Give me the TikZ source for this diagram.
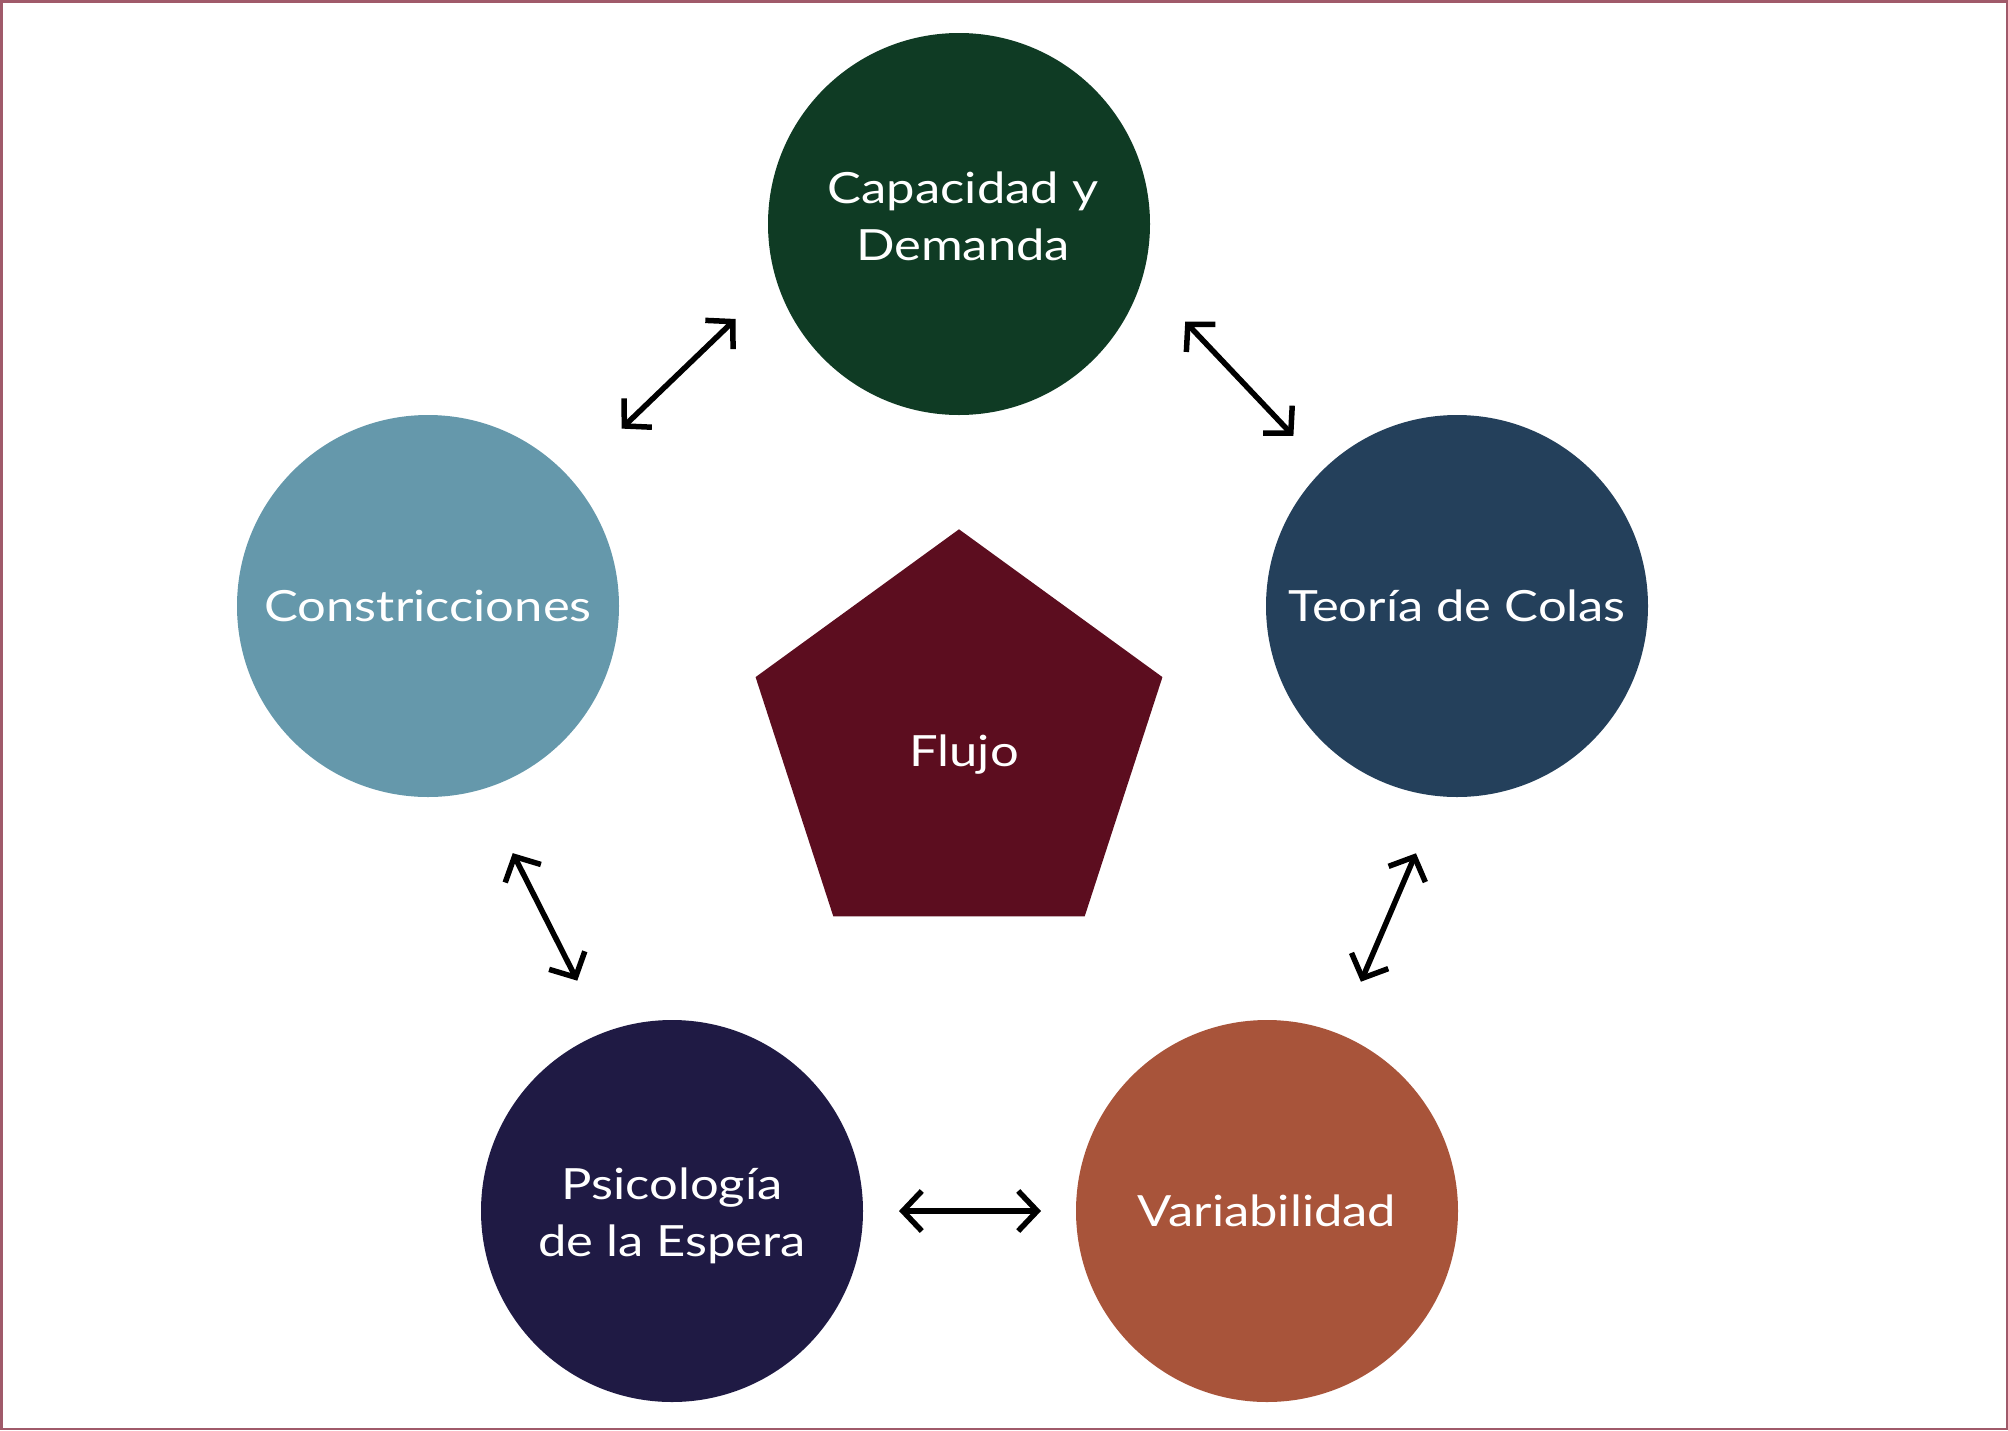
\documentclass[tikz,border=0pt]{standalone}
\usepackage{fontspec}
\setmainfont{Lato}[FakeStretch=1.18]
\usetikzlibrary{shapes.geometric,arrows.meta}
\definecolor{cgreen}{HTML}{0F3B24}
\definecolor{cteal}{HTML}{24405B}
\definecolor{clight}{HTML}{6598AB}
\definecolor{cnavy}{HTML}{1F1A44}
\definecolor{crust}{HTML}{A8543A}
\definecolor{cwine}{HTML}{5C0D1F}
\definecolor{cframe}{HTML}{A05A6A}
\tikzset{
  lbl/.style={text=white, align=center, font=\fontsize{43}{57}\selectfont},
  topic/.style={circle, fill=#1, draw=none, minimum size=382pt, inner sep=0pt, outer sep=0pt, lbl},
  link/.style={line width=5.5pt, draw=black, {Straight Barb[length=19pt,width=40pt]}-{Straight Barb[length=19pt,width=40pt]}}
}
\begin{document}
\begin{tikzpicture}[x=1pt,y=-1pt]
\useasboundingbox (0,0) rectangle (2008,1430);
\draw[cframe, line width=2.5pt] (1.25,1.25) rectangle (2006.75,1428.75);
\node[topic=cgreen] (cap) at (959,224) {};
\node[lbl] (captext) at (963,216) {Capacidad y\\Demanda};
\node[topic=cteal] (teo) at (1457,606) {Teoría de Colas};
\node[topic=clight] (con) at (428,606) {Constricciones};
\node[topic=cnavy] (psi) at (672,1211) {};
\node[lbl] (psitext) at (672,1216) {Psicología\\de la Espera};
\node[topic=crust] (var) at (1267,1211) {Variabilidad};
\node[regular polygon, regular polygon sides=5, minimum size=427.8pt, inner sep=0pt, outer sep=0pt,
  fill=cwine] (flu) at (959,743.2) {};
\node[lbl] (flutext) at (964,755) {Flujo};
\draw[link, shorten <=56.5pt, shorten >=71.6pt] (cap.197.7) -- (con.42);
\draw[link, shorten <=62pt, shorten >=45pt] (cap.344.4) -- (teo.134.7);
\draw[link, shorten <=62pt, shorten >=56.8pt] (teo.265.3) -- (var.68.9);
\draw[link, shorten <=36pt, shorten >=35pt] (psi.east) -- (var.west);
\draw[link, shorten <=71.2pt, shorten >=58.3pt] (con.286.7) -- (psi.111.7);
\end{tikzpicture}
\end{document}
